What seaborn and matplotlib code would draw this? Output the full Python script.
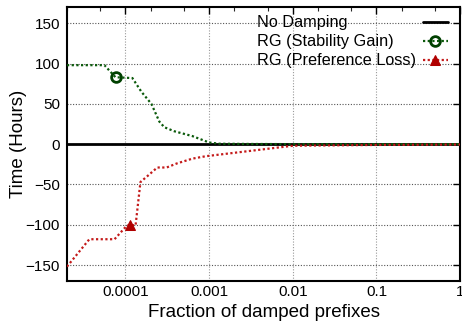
import matplotlib
matplotlib.use("Agg")
import matplotlib.pyplot as plt
import matplotlib.ticker as mticker
from matplotlib.lines import Line2D
import seaborn as sns

# ---- data ----
nodamp_x = [2e-5, 1.0]
nodamp_y = [0, 0]

gain_x = [2e-5, 5.6e-5, 7.6e-5, 1.21e-4, 1.55e-4, 2.04e-4, 2.54e-4, 2.91e-4,
          3.83e-4, 6.3e-4, 1e-3, 1.32e-3, 3.2e-3, 1e-2, 1e-1, 1.0]
gain_y = [98, 98, 83, 82, 65, 50, 28, 21, 16, 10, 2, 0.5, 0.2, 0, 0, 0]

loss_x = [2e-5, 3.7e-5, 7.4e-5, 1.02e-4, 1.12e-4, 1.32e-4, 1.51e-4, 1.86e-4,
          2.4e-4, 3.1e-4, 4.1e-4, 6.3e-4, 9.1e-4, 2.3e-3, 4e-3, 1e-2, 1e-1, 1.0]
loss_y = [-152, -118, -118, -102, -100, -101, -47, -39, -29, -29, -24, -18,
          -15, -10, -7, -2, -1, -0.5]

labels = ["No Damping", "RG (Stability Gain)", "RG (Preference Loss)"]
xticks = [1e-4, 1e-3, 1e-2, 1e-1, 1]
xticklabels = ["0.0001", "0.001", "0.01", "0.1", "1"]
yticks = [-150, -100, -50, 0, 50, 100, 150]

sns.set_style("white")
plt.rcParams["font.family"] = ["Liberation Sans", "DejaVu Sans"]
plt.rcParams["text.color"] = "black"
plt.rcParams["axes.labelcolor"] = "black"

fig = plt.figure(figsize=(4.62, 3.25), dpi=100)
ax = fig.add_axes([0.145, 0.135, 0.851, 0.843])

green = "#0b5a0b"
red = "#c41a1a"

sns.lineplot(x=nodamp_x, y=nodamp_y, ax=ax, color="black", lw=2.0,
             label=labels[0], zorder=3)
sns.lineplot(x=gain_x, y=gain_y, ax=ax, color=green, lw=1.6,
             linestyle=(0, (1, 1.1)), marker="o", markevery=[2],
             markersize=7, markerfacecolor="none", markeredgecolor="#004000",
             markeredgewidth=2.0, label=labels[1], zorder=4)
sns.lineplot(x=loss_x, y=loss_y, ax=ax, color=red, lw=1.6,
             linestyle=(0, (1, 1.1)), marker="^", markevery=[4],
             markersize=7, markerfacecolor="#b00000", markeredgecolor="#b00000",
             label=labels[2], zorder=4)

ax.set_xscale("log")
ax.set_xlim(2e-5, 1)
ax.set_ylim(-170, 170)
ax.set_xticks(xticks)
ax.set_xticklabels(xticklabels)
ax.xaxis.set_minor_locator(mticker.LogLocator(base=10, subs=(2, 5)))
ax.xaxis.set_minor_formatter(mticker.NullFormatter())
ax.set_yticks(yticks)

ax.tick_params(axis="both", which="major", direction="in", length=5, width=1,
               top=True, right=True, labelsize=11, colors="black")
ax.tick_params(axis="x", which="major", pad=3)
ax.tick_params(axis="y", which="major", pad=5)
ax.tick_params(axis="both", which="minor", direction="in", length=3, width=0.8,
               top=True, right=True)
ax.tick_params(axis="y", which="minor", left=False, right=False)

ax.yaxis.grid(True, color="#555555", linestyle=(0, (1, 1.5)), lw=0.8)
ax.xaxis.grid(True, which="major", color="#999999", linestyle=(0, (1, 1.5)), lw=0.8)
ax.set_axisbelow(True)
for s in ax.spines.values():
    s.set_color("black")
    s.set_linewidth(1.5)

ax.set_xlabel("Fraction of damped prefixes", fontsize=13.5, labelpad=3.5)
ax.set_ylabel("Time (Hours)", fontsize=13.5, labelpad=-1)

handles, labs = ax.get_legend_handles_labels()
if ax.get_legend() is not None:
    ax.get_legend().remove()
dummies = [Line2D([], [], linestyle="none") for _ in labs]
leg1 = ax.legend(dummies, labs, loc="upper left", bbox_to_anchor=(0.475, 0.982),
                 frameon=False, handlelength=0, handletextpad=0, fontsize=11.7,
                 borderaxespad=0, borderpad=0.2, labelspacing=0.25)
ax.add_artist(leg1)
leg2 = ax.legend(handles, ["", "", ""], loc="upper left",
                 bbox_to_anchor=(0.898, 0.982), frameon=False, handlelength=1.5,
                 handletextpad=0, fontsize=11.7, borderaxespad=0, borderpad=0.2,
                 labelspacing=0.25, numpoints=1)

fig.savefig("out.png", dpi=100)
